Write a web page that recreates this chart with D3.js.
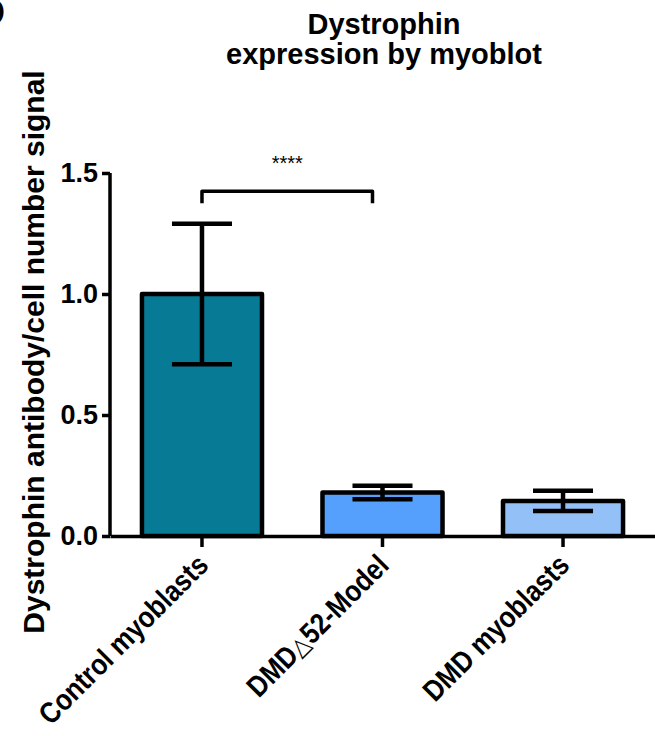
<!DOCTYPE html>
<html>
<head>
<meta charset="utf-8">
<script src="https://cdn.jsdelivr.net/npm/d3@7"></script>
<style>
  body { margin: 0; background: #fff; }
  svg { display: block; font-family: "Liberation Sans", Arial, sans-serif; }
</style>
</head>
<body>
<div id="chart"></div>
<script>
// data
const categories = ['Control myoblasts', 'DMD\u25B352-Model', 'DMD myoblasts'];
const means = [1.0, 0.18, 0.145];
const errors = [0.29, 0.028, 0.042];
const barColors = ['#077b96', '#559ffd', '#93c1f7'];
const yTicks = [0, 0.5, 1.0, 1.5];
const significance = { from: 0, to: 1, level: 1.425, label: '****' };

const width = 655;
const height = 736;
const margin = { top: 173, right: 0, bottom: 200, left: 110 };

const svg = d3.select('#chart').append('svg')
  .attr('width', width)
  .attr('height', height);

const x = d3.scaleBand()
  .domain(categories)
  .range([margin.left, width - margin.right])
  .paddingInner(0.335)
  .paddingOuter(0.177);

const y = d3.scaleLinear()
  .domain([0, 1.5])
  .range([height - margin.bottom, margin.top]);

// panel letter, mostly cut off at the left edge
svg.append('text')
  .attr('x', -21)
  .attr('y', 25)
  .attr('font-size', 36)
  .attr('font-weight', 'bold')
  .text('D');

// title
const title = svg.append('text')
  .attr('x', 384)
  .attr('text-anchor', 'middle')
  .attr('font-size', 29)
  .attr('font-weight', 'bold');
title.append('tspan').attr('x', 384).attr('y', 34).text('Dystrophin');
title.append('tspan').attr('x', 384).attr('y', 64).text('expression by myoblot');

// bars
svg.append('g')
  .selectAll('rect')
  .data(categories)
  .join('rect')
  .attr('x', d => x(d))
  .attr('y', (d, i) => y(means[i]))
  .attr('width', x.bandwidth())
  .attr('height', (d, i) => y(0) - y(means[i]))
  .attr('fill', (d, i) => barColors[i])
  .attr('stroke', '#000')
  .attr('stroke-width', 4.5)
  .attr('stroke-linejoin', 'round');

// error bars
const capW = x.bandwidth() / 2;
const err = svg.append('g')
  .attr('stroke', '#000')
  .attr('stroke-width', 4.5);
categories.forEach((c, i) => {
  const cx = x(c) + x.bandwidth() / 2;
  const hi = y(means[i] + errors[i]);
  const lo = y(means[i] - errors[i]);
  err.append('line').attr('x1', cx).attr('x2', cx).attr('y1', hi).attr('y2', lo);
  err.append('line').attr('x1', cx - capW / 2).attr('x2', cx + capW / 2).attr('y1', hi).attr('y2', hi);
  err.append('line').attr('x1', cx - capW / 2).attr('x2', cx + capW / 2).attr('y1', lo).attr('y2', lo);
});

// y axis
const yAxis = svg.append('g')
  .attr('transform', 'translate(' + margin.left + ',0)')
  .call(d3.axisLeft(y).tickValues(yTicks).tickFormat(d3.format('.1f')).tickSize(8).tickPadding(4));
yAxis.select('.domain').attr('stroke-width', 3.5).attr('d', 'M0,' + y(1.5) + 'V' + y(0));
yAxis.selectAll('.tick line').attr('stroke-width', 3.5);
yAxis.selectAll('.tick text')
  .attr('font-size', 27)
  .attr('font-weight', 'bold')
  .attr('font-family', '"Liberation Sans", Arial, sans-serif')
  .attr('fill', '#000');

// x axis
const xAxis = svg.append('g')
  .attr('transform', 'translate(0,' + y(0) + ')')
  .call(d3.axisBottom(x).tickSize(11).tickSizeOuter(0));
xAxis.select('.domain').attr('stroke-width', 3.5);
xAxis.selectAll('.tick line').attr('stroke-width', 3.5);
xAxis.selectAll('.tick text').remove();
xAxis.selectAll('.tick')
  .append('text')
  .attr('transform', 'translate(8,31) rotate(-45) scale(0.87,1)')
  .attr('text-anchor', 'end')
  .attr('font-size', 29.5)
  .attr('font-weight', 'bold')
  .attr('font-family', '"Liberation Sans", Arial, sans-serif')
  .attr('fill', '#000')
  .each(function (d) {
    const t = d3.select(this);
    const parts = d.split('\u25B3');
    if (parts.length === 1) {
      t.text(d);
    } else {
      t.append('tspan').text(parts[0]);
      t.append('tspan')
        .attr('font-weight', 'normal')
        .attr('font-family', '"DejaVu Sans", sans-serif')
        .attr('font-size', 25)
        .text('\u25B3');
      t.append('tspan').text(parts[1]);
    }
  });

// y axis title
svg.append('text')
  .attr('transform', 'translate(44,352) rotate(-90)')
  .attr('text-anchor', 'middle')
  .attr('font-size', 30)
  .attr('font-weight', 'bold')
  .text('Dystrophin antibody/cell number signal');

// significance bracket
const bx1 = x(categories[significance.from]) + x.bandwidth() / 2;
const bx2 = x(categories[significance.to]) + x.bandwidth() / 2 - 10;
const by = y(significance.level);
svg.append('path')
  .attr('d', 'M' + bx1 + ',' + (by + 12) + 'V' + by + 'H' + bx2 + 'V' + (by + 12))
  .attr('fill', 'none')
  .attr('stroke', '#000')
  .attr('stroke-width', 3.5)
  .attr('stroke-linejoin', 'round');
svg.append('text')
  .attr('x', (bx1 + bx2) / 2)
  .attr('y', by - 21)
  .attr('text-anchor', 'middle')
  .attr('font-size', 20)
  .text(significance.label);
</script>
</body>
</html>
